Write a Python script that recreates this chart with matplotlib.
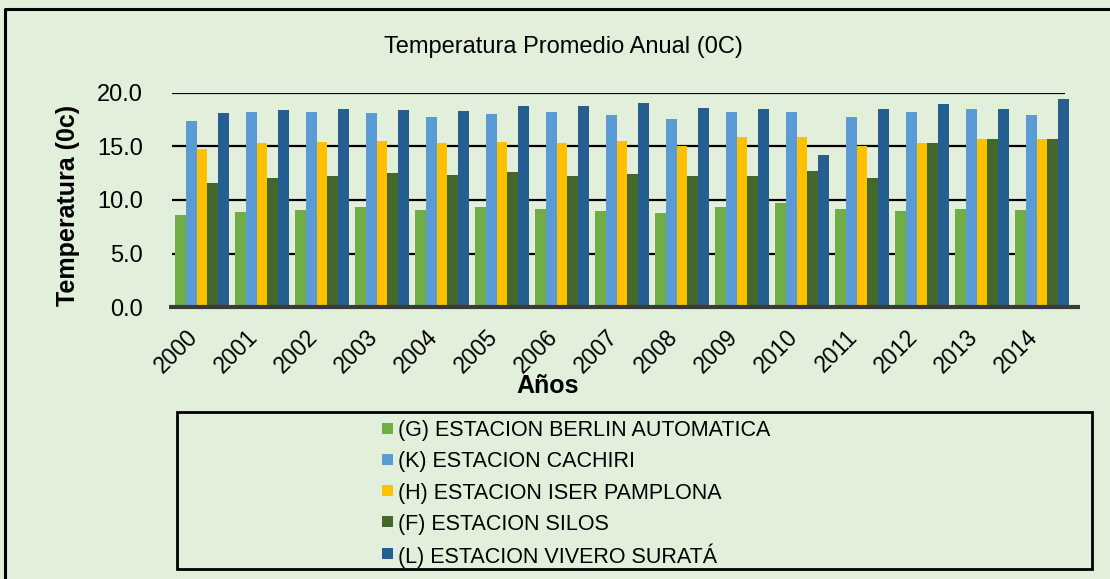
import matplotlib.pyplot as plt
from matplotlib.patches import Rectangle
from matplotlib.lines import Line2D
import numpy as np

plt.rcParams['font.family'] = ['Liberation Sans', 'DejaVu Sans']

# Annual mean temperature per station (degrees C)
years = ["2000", "2001", "2002", "2003", "2004", "2005", "2006", "2007",
         "2008", "2009", "2010", "2011", "2012", "2013", "2014"]
berlin = [8.6, 8.9, 9.1, 9.3, 9.1, 9.3, 9.2, 9.0, 8.8, 9.3, 9.7, 9.2, 9.0, 9.2, 9.1]
cachiri = [17.4, 18.2, 18.2, 18.1, 17.8, 18.0, 18.2, 17.9, 17.6, 18.2, 18.2, 17.8, 18.2, 18.5, 17.9]
iser = [14.8, 15.3, 15.4, 15.5, 15.3, 15.4, 15.3, 15.5, 15.0, 15.9, 15.9, 15.0, 15.3, 15.7, 15.7]
silos = [11.6, 12.1, 12.2, 12.5, 12.3, 12.6, 12.2, 12.4, 12.2, 12.2, 12.7, 12.1, 15.3, 15.7, 15.7]
surata = [18.1, 18.4, 18.5, 18.4, 18.3, 18.8, 18.8, 19.1, 18.6, 18.5, 14.2, 18.5, 19.0, 18.5, 19.4]

series = [
    ("(G) ESTACION BERLIN AUTOMATICA", berlin, "#70AD47"),
    ("(K) ESTACION CACHIRI", cachiri, "#5B9BD5"),
    ("(H) ESTACION ISER PAMPLONA", iser, "#FFC000"),
    ("(F) ESTACION SILOS", silos, "#43682B"),
    ("(L) ESTACION VIVERO SURATÁ", surata, "#255E91"),
]

BG = "#E2EFDA"
W, H = 1110, 579

fig = plt.figure(figsize=(W / 100, H / 100), dpi=100, facecolor=BG)
ax = fig.add_axes([172 / W, 1 - 307 / H, 900 / W, 214 / H], facecolor=BG)

x = np.arange(len(years))
bw = 0.18
for i, (name, vals, col) in enumerate(series):
    ax.bar(x + (i - 2) * bw, vals, width=bw, color=col, edgecolor="none", zorder=3)

# horizontal gridlines and floor
for yv in [5, 10, 15, 20]:
    ax.hlines(yv, -0.5, 14.38, color="black", lw=1.6, zorder=1)
ax.hlines(0, -0.55, 14.63, color="#3a3a3a", lw=3, zorder=4, clip_on=False)

ax.set_xlim(-0.5, 14.5)
ax.set_ylim(0, 20)
for s in ax.spines.values():
    s.set_visible(False)

ax.set_yticks([0, 5, 10, 15, 20])
ax.set_yticklabels([f"{v:.1f}" for v in [0, 5, 10, 15, 20]], fontsize=17)
ax.tick_params(axis="y", length=0, pad=21)
ax.set_xticks(x)
ax.set_xticklabels(years, rotation=45, ha="right", fontsize=16.5)
ax.tick_params(axis="x", length=0, pad=13)

fig.text(563 / W, 1 - 47 / H, "Temperatura Promedio Anual (0C)", fontsize=17,
         ha="center", va="center")
fig.text(68 / W, 1 - 205 / H, "Temperatura (0c)", fontsize=18, fontweight="bold",
         rotation=90, ha="center", va="center")
fig.text(548 / W, 1 - 386 / H, "Años", fontsize=18, fontweight="bold",
         ha="center", va="center")

# legend: framed box, one row per station
fig.patches.append(Rectangle((177 / W, 1 - 569 / H), (1092 - 177) / W, (569 - 412) / H,
                             transform=fig.transFigure, fill=False, edgecolor="black",
                             lw=2))
for i, (name, _, col) in enumerate(series):
    yc = 428 + 31.3 * i
    fig.patches.append(Rectangle((382 / W, 1 - (yc + 5.5) / H), 11 / W, 11 / H,
                                 transform=fig.transFigure, facecolor=col,
                                 edgecolor="none"))
    fig.text(398 / W, 1 - yc / H, name, fontsize=15.5, ha="left", va="center_baseline")

# outer border on the left and top
fig.lines.append(Line2D([5 / W, 5 / W, 1.0], [0.0, 1 - 9 / H, 1 - 9 / H],
                        transform=fig.transFigure, color="black", lw=2.2))

fig.savefig("out.png", dpi=100, facecolor=BG)
